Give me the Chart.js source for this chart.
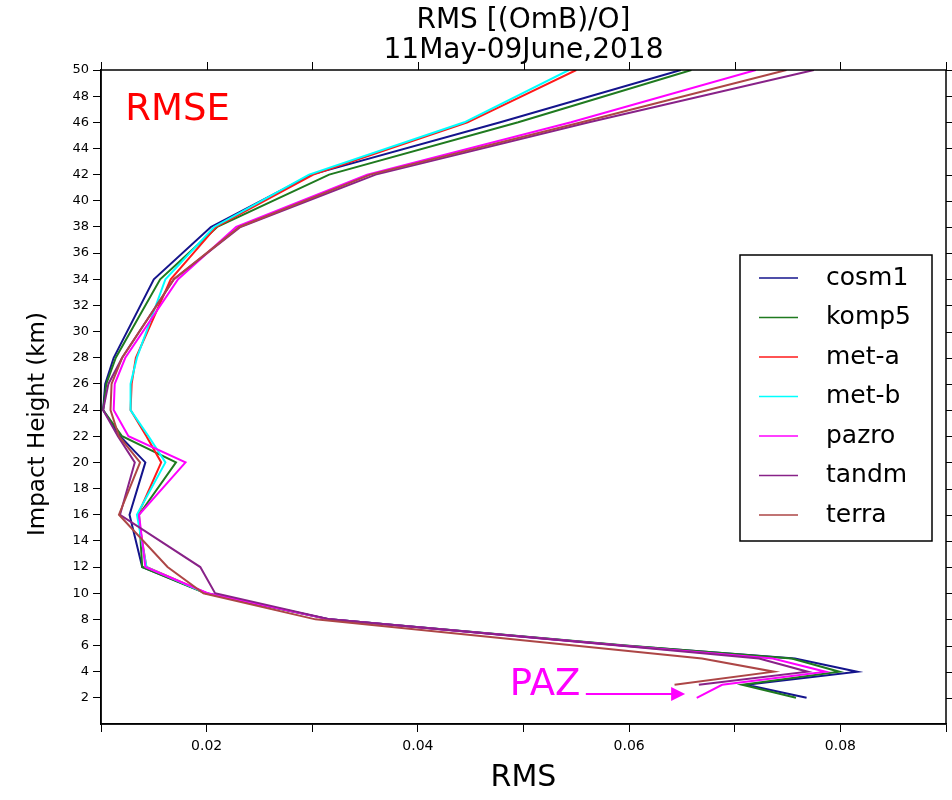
<!DOCTYPE html>
<html>
<head>
<meta charset="UTF-8">
<title>RMS profile</title>
<script src="https://cdn.jsdelivr.net/npm/chart.js"></script>
<style>
  html, body { margin: 0; padding: 0; background: #fff; }
</style>
</head>
<body>
<div style="width:952px; height:800px;">
  <canvas id="grafico"></canvas>
</div>
<script>
// impact heights (km) of the profile levels
const heights = [50, 46, 42, 38, 34, 28, 26, 24, 22, 20, 16, 12, 10, 8, 6, 5, 4, 3, 2];

// RMS of (O-B)/O for each mission, same order as heights (null = no value)
const cosm1 = [0.0649, 0.0478, 0.0299, 0.0204, 0.0150, 0.0112, 0.0104, 0.0102, 0.0118, 0.0142, 0.0127, 0.0139, 0.0200, 0.0317, 0.0594, 0.0757, 0.0816, 0.0711, 0.0768];
const komp5 = [0.0659, 0.0495, 0.0316, 0.0210, 0.0156, 0.0114, 0.0105, 0.0102, 0.0120, 0.0171, 0.0136, 0.0139, 0.0199, 0.0316, 0.0597, 0.0754, 0.0799, 0.0707, 0.0758];
const meta  = [0.0550, 0.0447, 0.0301, 0.0209, 0.0166, 0.0133, 0.0129, 0.0128, 0.0143, 0.0157, 0.0135, 0.0143, 0.0200, null, null, null, null, null, null];
const metb  = [0.0543, 0.0444, 0.0297, 0.0207, 0.0161, 0.0134, 0.0128, 0.0128, 0.0145, 0.0161, 0.0134, 0.0143, 0.0199, null, null, null, null, null, null];
const pazro = [0.0720, 0.0545, 0.0352, 0.0228, 0.0173, 0.0123, 0.0113, 0.0112, 0.0126, 0.0180, 0.0136, 0.0142, 0.0201, 0.0316, 0.0592, 0.0736, 0.0786, 0.0688, 0.0664];
const tandm = [0.0775, 0.0562, 0.0360, 0.0232, 0.0169, 0.0120, 0.0107, 0.0102, 0.0116, 0.0132, 0.0118, 0.0194, 0.0208, 0.0317, 0.0590, 0.0723, 0.0769, 0.0666, null];
const terra = [0.0749, 0.0555, 0.0355, 0.0231, 0.0169, 0.0120, 0.0110, 0.0109, 0.0117, 0.0137, 0.0117, 0.0163, 0.0197, 0.0303, 0.0548, 0.0669, 0.0737, 0.0643, null];

const missoes = ["cosm1", "komp5", "met-a", "met-b", "pazro", "tandm", "terra"];
const valores = [cosm1, komp5, meta, metb, pazro, tandm, terra];
const cores = ["#14148c", "#1f7a1f", "#ff1a1a", "#00ffff", "#ff00ff", "#882288", "#ad4646"];

const xTicks = [0.02, 0.04, 0.06, 0.08];
const titulo = ["RMS [(OmB)/O]", "11May-09June,2018"];

Chart.defaults.font.family = "'DejaVu Sans', sans-serif";
Chart.defaults.color = "#000";

const pontos = (vals) => heights
  .map((h, i) => vals[i] == null ? null : { x: vals[i], y: h })
  .filter(p => p);

// frame, ticks on top/right, titles, legend and labels
const extras = {
  id: "extras",
  afterDatasetsDraw(chart) {
    const { ctx, chartArea: a, scales } = chart;
    ctx.save();
    ctx.strokeStyle = "#000";
    ctx.lineWidth = 1.5;
    ctx.strokeRect(a.left, a.top, a.right - a.left, a.bottom - a.top);

    ctx.lineWidth = 1;
    scales.x.ticks.forEach(t => {
      const px = Math.round(scales.x.getPixelForValue(t.value)) + 0.5;
      ctx.beginPath(); ctx.moveTo(px, a.top); ctx.lineTo(px, a.top - 8); ctx.stroke();
    });
    scales.y.ticks.forEach(t => {
      if (t.value === 0) return;
      const py = Math.round(scales.y.getPixelForValue(t.value)) + 0.5;
      ctx.beginPath(); ctx.moveTo(a.right, py); ctx.lineTo(a.right + 8, py); ctx.stroke();
    });

    // title centred over the plot area
    const cx = (a.left + a.right) / 2;
    ctx.fillStyle = "#000";
    ctx.font = "28px 'DejaVu Sans'";
    ctx.textAlign = "center";
    ctx.textBaseline = "middle";
    ctx.fillText(titulo[0], cx, 21);
    ctx.fillText(titulo[1], cx, 51);

    // y axis title
    ctx.save();
    ctx.translate(38, 424);
    ctx.rotate(-Math.PI / 2);
    ctx.font = "23px 'DejaVu Sans'";
    ctx.fillText("Impact Height (km)", 0, 0);
    ctx.restore();

    // annotation texts
    ctx.font = "37px 'DejaVu Sans'";
    ctx.textAlign = "left";
    ctx.fillStyle = "#ff0000";
    ctx.fillText("RMSE", scales.x.getPixelForValue(0.0123), scales.y.getPixelForValue(46.9));
    ctx.fillStyle = "#ff00ff";
    ctx.fillText("PAZ", scales.x.getPixelForValue(0.0487), scales.y.getPixelForValue(2.95));

    // arrow pointing at the pazro tail
    const ay = scales.y.getPixelForValue(2.3);
    const x0 = scales.x.getPixelForValue(0.0559);
    const x1 = scales.x.getPixelForValue(0.0653);
    ctx.strokeStyle = "#ff00ff";
    ctx.lineWidth = 2;
    ctx.beginPath(); ctx.moveTo(x0, ay); ctx.lineTo(x1 - 12, ay); ctx.stroke();
    ctx.beginPath();
    ctx.moveTo(x1, ay); ctx.lineTo(x1 - 14, ay - 7); ctx.lineTo(x1 - 14, ay + 7); ctx.closePath();
    ctx.fill();

    // legend box
    const lx = 740, ly = 255, lw = 192, lh = 286;
    ctx.fillStyle = "#fff";
    ctx.fillRect(lx, ly, lw, lh);
    ctx.strokeStyle = "#000";
    ctx.lineWidth = 1.5;
    ctx.strokeRect(lx, ly, lw, lh);
    ctx.font = "25px 'DejaVu Sans'";
    chart.data.datasets.forEach((ds, i) => {
      const ry = ly + 23 + i * 39.5;
      ctx.strokeStyle = ds.borderColor;
      ctx.lineWidth = 1.5;
      ctx.beginPath(); ctx.moveTo(lx + 19, ry); ctx.lineTo(lx + 58, ry); ctx.stroke();
      ctx.fillStyle = "#000";
      ctx.fillText(ds.label, lx + 86, ry);
    });
    ctx.restore();
  }
};

const ctx = document.getElementById("grafico");

new Chart(ctx, {
  type: "scatter",
  data: {
    datasets: missoes.map((m, i) => ({
      label: m,
      data: pontos(valores[i]),
      showLine: true,
      borderColor: cores[i],
      backgroundColor: cores[i],
      borderWidth: 2,
      pointRadius: 0,
      tension: 0,
      order: missoes.length - i
    }))
  },
  options: {
    responsive: true,
    maintainAspectRatio: false,
    animation: false,
    layout: { padding: { left: 0, right: 6, top: 70, bottom: 0 } },
    plugins: {
      legend: { display: false },
      tooltip: { enabled: false },
      title: { display: false }
    },
    scales: {
      x: {
        type: "linear",
        min: 0.01,
        max: 0.09,
        ticks: {
          stepSize: 0.01,
          padding: 6,
          font: { size: 14 },
          color: "#000",
          maxRotation: 0,
          callback: (v) => {
            const r = Math.round(v * 100) / 100;
            return xTicks.includes(r) ? r.toFixed(2) : "";
          }
        },
        grid: { drawOnChartArea: false, drawTicks: true, tickLength: 8, color: "#000" },
        border: { display: true, color: "#000", width: 1.5 },
        title: { display: true, text: "RMS", font: { size: 30 }, color: "#000", padding: { top: 0, bottom: 4 } },
        afterFit: (s) => { s.height = 76; }
      },
      y: {
        type: "linear",
        min: 0,
        max: 50,
        ticks: {
          stepSize: 2,
          padding: 4,
          font: { size: 13 },
          color: "#000",
          callback: (v) => v === 0 ? "" : v
        },
        grid: {
          drawOnChartArea: false, drawTicks: true, tickLength: 8,
          color: (c) => c.tick && c.tick.value === 0 ? "rgba(0,0,0,0)" : "#000"
        },
        border: { display: true, color: "#000", width: 1.5 },
        title: { display: false },
        afterFit: (s) => { s.width = 101; }
      }
    }
  },
  plugins: [extras]
});
</script>
</body>
</html>
